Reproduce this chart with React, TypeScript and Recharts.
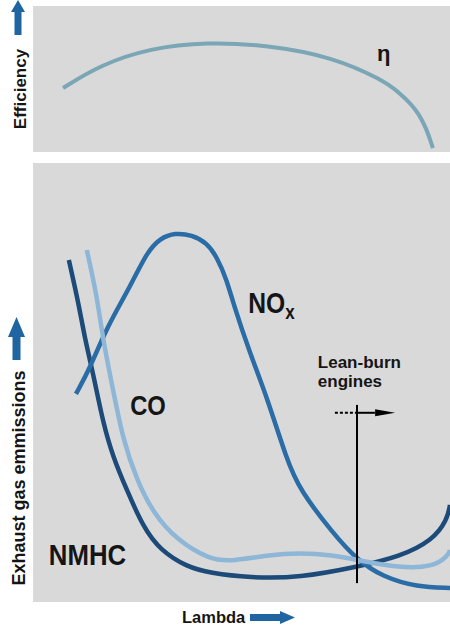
import React from 'react';
import { LineChart, Line, XAxis, YAxis, ReferenceLine, ReferenceDot } from 'recharts';

// lambda on a relative 0-100 scale, values are relative levels 0-100
const lambdaEff = [7.2, 16.1, 28.1, 41.7, 56.1, 71.9, 83.9, 88.0, 92.1, 94.5, 95.9];
const efficiency = [43.8, 59.6, 71.2, 75.3, 73.3, 65.1, 49.3, 40.4, 28.8, 15.1, 2.7];

const lambdaNox = [10.3, 13.7, 17.7, 23.3, 27.3, 30.5, 34.1, 38.1, 41.7, 44.1, 46.5, 48.0, 52.0, 56.1, 60.9, 64.0, 71.9, 77.7, 83.9, 92.1, 100];
const nox = [47.4, 53.3, 62.6, 71.8, 79.7, 82.9, 84.1, 83.6, 81.8, 78.6, 73.3, 68.1, 56.7, 46.7, 32.3, 25.5, 15.7, 9.6, 5.7, 3.4, 3.2];

const lambdaCo = [12.9, 15.3, 16.8, 19.2, 21.6, 24.9, 28.8, 34.5, 42.4, 48.0, 56.1, 64.0, 71.9, 77.7, 88.0, 95.9, 99.3, 100];
const co = [80.2, 69.9, 59.7, 48.3, 36.9, 27.8, 20.3, 14.1, 9.6, 9.3, 10.7, 11.2, 10.7, 9.6, 7.7, 8.0, 10.3, 11.8];

const lambdaNmhc = [8.6, 11.0, 12.5, 14.4, 16.8, 19.2, 22.5, 26.4, 30.5, 36.9, 42.4, 52.0, 64.0, 77.7, 88.0, 95.9, 99.3, 100];
const nmhc = [77.9, 67.7, 59.7, 52.2, 40.8, 33.0, 25.5, 17.1, 11.8, 8.0, 6.6, 5.5, 5.5, 8.0, 10.3, 14.1, 18.7, 22.1];

const leanBurnLambda = 77.7;

const toPoints = (xs: number[], ys: number[]) => xs.map((x, i) => ({ x, y: ys[i] }));

const bg = '#d9d9d9';
const ink = '#151515';
const arrowBlue = '#1f65a2';
const font = "'Liberation Sans', Arial, sans-serif";

// bold label, squeezed horizontally like a condensed face
const textAt = (content: React.ReactNode, size: number, squeeze = 1) => (p: any) => (
    <text transform={`translate(${p.cx},${p.cy}) scale(${squeeze},1)`} x={0} y={0}
          fontSize={size} fontWeight="bold" fontFamily={font} fill={ink}>
        {content}
    </text>
);

const arrowHead = (p: any) => (
    <path d={`M${p.cx - 14},${p.cy - 3.5} L${p.cx + 6},${p.cy} L${p.cx - 14},${p.cy + 3.5} Z`} fill="#000"/>
);

export default function App() {
    return (
        <div style={{ position: 'absolute', left: 0, top: 0, width: 450, height: 627, background: '#fff' }}>
            <div style={{ position: 'absolute', left: 33, top: 6 }}>
                <LineChart width={417} height={146} margin={{ top: 0, right: 0, bottom: 0, left: 0 }}
                           style={{ background: bg }}>
                    <XAxis type="number" dataKey="x" domain={[0, 100]} hide/>
                    <YAxis type="number" domain={[0, 100]} hide/>
                    <Line data={toPoints(lambdaEff, efficiency)} dataKey="y" type="basis" stroke="#7ba6b6"
                          strokeWidth={4} dot={false} isAnimationActive={false}/>
                    <ReferenceDot x={82.5} y={62} r={0} shape={textAt('η', 22)}/>
                </LineChart>
            </div>
            <div style={{ position: 'absolute', left: 33, top: 163 }}>
                <LineChart width={417} height={439} margin={{ top: 0, right: 0, bottom: 0, left: 0 }}
                           style={{ background: bg }}>
                    <XAxis type="number" dataKey="x" domain={[0, 100]} hide/>
                    <YAxis type="number" domain={[0, 100]} hide/>
                    <Line data={toPoints(lambdaNmhc, nmhc)} dataKey="y" type="basis" stroke="#1d4b79"
                          strokeWidth={4.5} dot={false} isAnimationActive={false}/>
                    <Line data={toPoints(lambdaNox, nox)} dataKey="y" type="basis" stroke="#2a6ca5"
                          strokeWidth={4.5} dot={false} isAnimationActive={false}/>
                    <Line data={toPoints(lambdaCo, co)} dataKey="y" type="basis" stroke="#8db6d7"
                          strokeWidth={4.5} dot={false} isAnimationActive={false}/>
                    <ReferenceLine segment={[{ x: leanBurnLambda, y: 4.3 }, { x: leanBurnLambda, y: 44.9 }]}
                                   stroke="#000" strokeWidth={2}/>
                    <ReferenceLine segment={[{ x: 72.4, y: 43.1 }, { x: leanBurnLambda, y: 43.1 }]}
                                   stroke="#000" strokeWidth={2} strokeDasharray="3 2"/>
                    <ReferenceLine segment={[{ x: leanBurnLambda, y: 43.1 }, { x: 82.0, y: 43.1 }]}
                                   stroke="#000" strokeWidth={2}/>
                    <ReferenceDot x={85.4} y={43.1} r={0} shape={arrowHead}/>
                    <ReferenceDot x={51.6} y={65.8} r={0}
                                  shape={textAt(<><tspan>NO</tspan><tspan fontSize={20} dy={6}>x</tspan></>, 29, 0.85)}/>
                    <ReferenceDot x={23.3} y={42.6} r={0} shape={textAt('CO', 28, 0.85)}/>
                    <ReferenceDot x={3.8} y={8.4} r={0} shape={textAt('NMHC', 30, 0.86)}/>
                    <ReferenceDot x={68.3} y={53.3} r={0} shape={textAt('Lean-burn', 17)}/>
                    <ReferenceDot x={68.3} y={49.0} r={0} shape={textAt('engines', 17)}/>
                </LineChart>
            </div>
            <svg width={450} height={627} style={{ position: 'absolute', left: 0, top: 0, pointerEvents: 'none' }}>
                <g fontFamily={font} fontWeight="bold" fill={ink}>
                    <text transform="translate(26,89) rotate(-90)" textAnchor="middle" fontSize={17}>Efficiency</text>
                    <text transform="translate(25,478) rotate(-90)" textAnchor="middle" fontSize={18}>Exhaust gas emmissions</text>
                    <text x={182} y={623} fontSize={16.5}>Lambda</text>
                </g>
                <g fill={arrowBlue}>
                    <path d="M18,0 L25,12 L21.5,12 L21.5,35 L14.5,35 L14.5,12 L11,12 Z"/>
                    <path d="M16.5,317 L25,337 L20.5,337 L20.5,360 L12.5,360 L12.5,337 L8,337 Z"/>
                    <path d="M250,614 L280,614 L280,611 L295,617.5 L280,624 L280,621 L250,621 Z"/>
                </g>
            </svg>
        </div>
    );
}
